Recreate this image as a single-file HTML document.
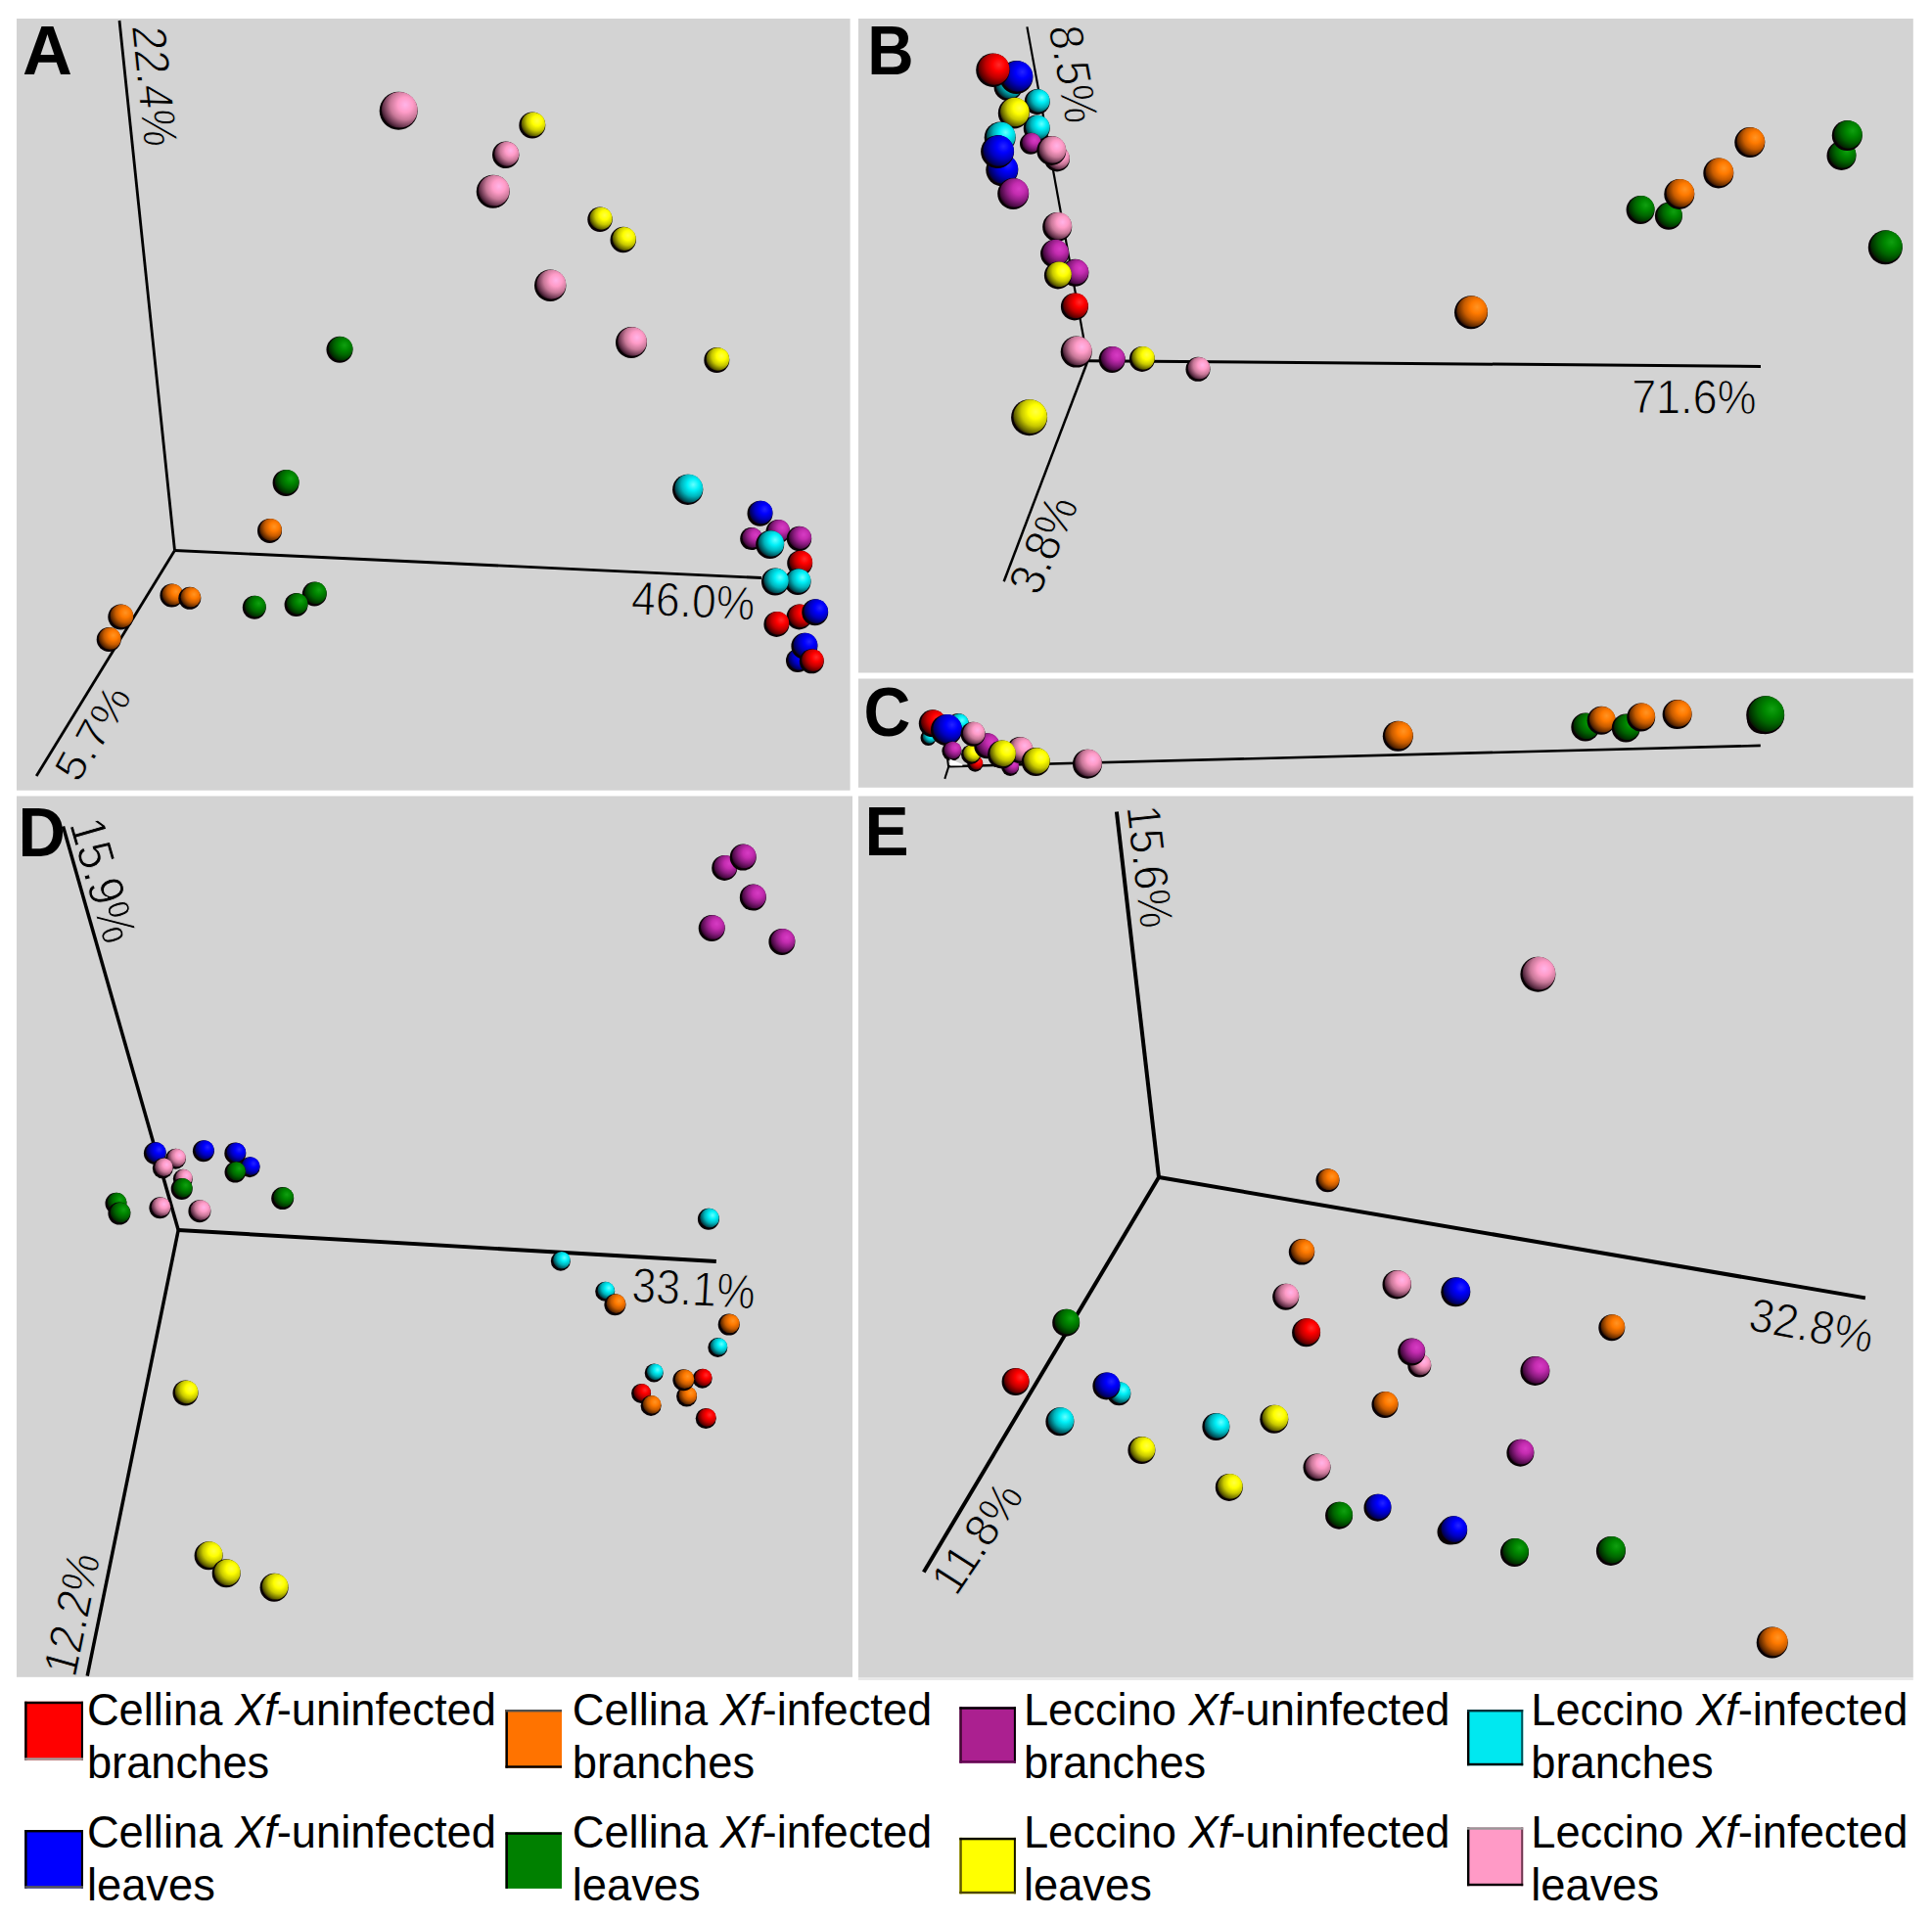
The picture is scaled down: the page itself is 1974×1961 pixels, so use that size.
<!DOCTYPE html>
<html><head><meta charset="utf-8"><title>PCoA</title>
<style>html,body{margin:0;padding:0;background:#fff}svg{display:block}text{font-family:"Liberation Sans",sans-serif;fill:#000}</style></head><body>
<svg width="1974" height="1961" viewBox="0 0 1974 1961">
<defs>
<radialGradient id="gr" cx="0.66" cy="0.36" r="0.75" fx="0.66" fy="0.36"><stop offset="0" stop-color="#ff2a2a"/><stop offset="0.28" stop-color="#ff0000"/><stop offset="0.56" stop-color="#c00000"/><stop offset="0.84" stop-color="#600000"/><stop offset="1" stop-color="#100008"/></radialGradient>
<radialGradient id="go" cx="0.66" cy="0.36" r="0.75" fx="0.66" fy="0.36"><stop offset="0" stop-color="#ff9424"/><stop offset="0.28" stop-color="#ff7a00"/><stop offset="0.56" stop-color="#c85c00"/><stop offset="0.84" stop-color="#602a00"/><stop offset="1" stop-color="#100008"/></radialGradient>
<radialGradient id="gp" cx="0.66" cy="0.36" r="0.75" fx="0.66" fy="0.36"><stop offset="0" stop-color="#d63cc4"/><stop offset="0.28" stop-color="#c42cb0"/><stop offset="0.56" stop-color="#8e1c82"/><stop offset="0.84" stop-color="#4a0a44"/><stop offset="1" stop-color="#100008"/></radialGradient>
<radialGradient id="gc" cx="0.66" cy="0.36" r="0.75" fx="0.66" fy="0.36"><stop offset="0" stop-color="#66ffff"/><stop offset="0.28" stop-color="#00f0f8"/><stop offset="0.56" stop-color="#00b4bc"/><stop offset="0.84" stop-color="#005058"/><stop offset="1" stop-color="#100008"/></radialGradient>
<radialGradient id="gb" cx="0.66" cy="0.36" r="0.75" fx="0.66" fy="0.36"><stop offset="0" stop-color="#2424ff"/><stop offset="0.28" stop-color="#0000ff"/><stop offset="0.56" stop-color="#0000c0"/><stop offset="0.84" stop-color="#000060"/><stop offset="1" stop-color="#100008"/></radialGradient>
<radialGradient id="gg" cx="0.66" cy="0.36" r="0.75" fx="0.66" fy="0.36"><stop offset="0" stop-color="#10a010"/><stop offset="0.28" stop-color="#008800"/><stop offset="0.56" stop-color="#006400"/><stop offset="0.84" stop-color="#003000"/><stop offset="1" stop-color="#100008"/></radialGradient>
<radialGradient id="gy" cx="0.66" cy="0.36" r="0.75" fx="0.66" fy="0.36"><stop offset="0" stop-color="#ffff44"/><stop offset="0.28" stop-color="#ffff00"/><stop offset="0.56" stop-color="#c8c800"/><stop offset="0.84" stop-color="#606000"/><stop offset="1" stop-color="#100008"/></radialGradient>
<radialGradient id="gk" cx="0.66" cy="0.36" r="0.75" fx="0.66" fy="0.36"><stop offset="0" stop-color="#ffb4e8"/><stop offset="0.28" stop-color="#ff9cc8"/><stop offset="0.56" stop-color="#c87898"/><stop offset="0.84" stop-color="#603048"/><stop offset="1" stop-color="#100008"/></radialGradient>
<clipPath id="clipA"><rect x="17" y="19" width="851.6" height="788.7"/></clipPath>
<clipPath id="clipB"><rect x="877" y="19" width="1077.8" height="668.5"/></clipPath>
<clipPath id="clipC"><rect x="877" y="693.5" width="1077.8" height="111.3"/></clipPath>
<clipPath id="clipD"><rect x="17" y="813.5" width="854.0" height="900.3"/></clipPath>
<clipPath id="clipE"><rect x="877" y="813.5" width="1077.8" height="900.5"/></clipPath>
</defs>
<rect width="1974" height="1961" fill="#fff"/>
<g id="panelA">
<rect x="17" y="19" width="851.6" height="788.7" fill="#d3d3d3"/>
<line x1="178.5" y1="562.5" x2="122" y2="21" stroke="#000" stroke-width="2.8"/>
<line x1="178.5" y1="562.5" x2="778" y2="590.5" stroke="#000" stroke-width="2.8"/>
<line x1="178.5" y1="562.5" x2="37.2" y2="793" stroke="#000" stroke-width="2.8"/>
<circle cx="407.2" cy="113.3" r="19.5" fill="#080004"/><circle cx="408.25" cy="112.25" r="18.30" fill="url(#gk)"/>
<circle cx="543.8" cy="128" r="13.5" fill="#080004"/><circle cx="544.85" cy="126.95" r="12.30" fill="url(#gy)"/>
<circle cx="516.7" cy="158.3" r="13.7" fill="#080004"/><circle cx="517.75" cy="157.25" r="12.50" fill="url(#gk)"/>
<circle cx="503.7" cy="195.8" r="17" fill="#080004"/><circle cx="504.75" cy="194.75" r="15.80" fill="url(#gk)"/>
<circle cx="613" cy="224.2" r="12.7" fill="#080004"/><circle cx="614.05" cy="223.15" r="11.50" fill="url(#gy)"/>
<circle cx="636.7" cy="245" r="13.2" fill="#080004"/><circle cx="637.75" cy="243.95" r="12.00" fill="url(#gy)"/>
<circle cx="562.2" cy="291.7" r="16.2" fill="#080004"/><circle cx="563.25" cy="290.65" r="15.00" fill="url(#gk)"/>
<circle cx="645" cy="350" r="16" fill="#080004"/><circle cx="646.05" cy="348.95" r="14.80" fill="url(#gk)"/>
<circle cx="732.3" cy="368" r="13" fill="#080004"/><circle cx="733.35" cy="366.95" r="11.80" fill="url(#gy)"/>
<circle cx="347" cy="357.3" r="13.5" fill="#080004"/><circle cx="348.05" cy="356.25" r="12.30" fill="url(#gg)"/>
<circle cx="292.1" cy="493.4" r="13.5" fill="#080004"/><circle cx="293.15" cy="492.35" r="12.30" fill="url(#gg)"/>
<circle cx="275.5" cy="542.4" r="12.5" fill="#080004"/><circle cx="276.55" cy="541.35" r="11.30" fill="url(#go)"/>
<circle cx="702.7" cy="500.3" r="15.6" fill="#080004"/><circle cx="703.75" cy="499.25" r="14.40" fill="url(#gc)"/>
<circle cx="794.8" cy="543.2" r="12.3" fill="#080004"/><circle cx="795.85" cy="542.15" r="11.10" fill="url(#gp)"/>
<circle cx="767.7" cy="550.5" r="11.5" fill="#080004"/><circle cx="768.75" cy="549.45" r="10.30" fill="url(#gp)"/>
<circle cx="776.5" cy="524.7" r="13" fill="#080004"/><circle cx="777.55" cy="523.65" r="11.80" fill="url(#gb)"/>
<circle cx="816.5" cy="550.5" r="12.7" fill="#080004"/><circle cx="817.55" cy="549.45" r="11.50" fill="url(#gp)"/>
<circle cx="786.7" cy="556.5" r="14.5" fill="#080004"/><circle cx="787.75" cy="555.45" r="13.30" fill="url(#gc)"/>
<circle cx="817.2" cy="575.5" r="13" fill="#080004"/><circle cx="818.25" cy="574.45" r="11.80" fill="url(#gr)"/>
<circle cx="815" cy="594.5" r="13.5" fill="#080004"/><circle cx="816.05" cy="593.45" r="12.30" fill="url(#gc)"/>
<circle cx="792" cy="594.5" r="14" fill="#080004"/><circle cx="793.05" cy="593.45" r="12.80" fill="url(#gc)"/>
<circle cx="816.5" cy="630.4" r="13" fill="#080004"/><circle cx="817.55" cy="629.35" r="11.80" fill="url(#gr)"/>
<circle cx="793.4" cy="637.9" r="13" fill="#080004"/><circle cx="794.45" cy="636.85" r="11.80" fill="url(#gr)"/>
<circle cx="832.7" cy="625.7" r="13.5" fill="#080004"/><circle cx="833.75" cy="624.65" r="12.30" fill="url(#gb)"/>
<circle cx="815" cy="675" r="12" fill="#080004"/><circle cx="816.05" cy="673.95" r="10.80" fill="url(#gb)"/>
<circle cx="821.9" cy="660.2" r="13.5" fill="#080004"/><circle cx="822.95" cy="659.15" r="12.30" fill="url(#gb)"/>
<circle cx="829.3" cy="675.8" r="12.5" fill="#080004"/><circle cx="830.35" cy="674.75" r="11.30" fill="url(#gr)"/>
<circle cx="175.4" cy="608.6" r="12" fill="#080004"/><circle cx="176.45" cy="607.55" r="10.80" fill="url(#go)"/>
<circle cx="193.8" cy="611.3" r="11.5" fill="#080004"/><circle cx="194.85" cy="610.25" r="10.30" fill="url(#go)"/>
<circle cx="123.3" cy="630.5" r="13" fill="#080004"/><circle cx="124.35" cy="629.45" r="11.80" fill="url(#go)"/>
<circle cx="111.2" cy="653.5" r="12.5" fill="#080004"/><circle cx="112.25" cy="652.45" r="11.30" fill="url(#go)"/>
<circle cx="259.8" cy="620.7" r="12" fill="#080004"/><circle cx="260.85" cy="619.65" r="10.80" fill="url(#gg)"/>
<circle cx="321.3" cy="607" r="12.5" fill="#080004"/><circle cx="322.35" cy="605.95" r="11.30" fill="url(#gg)"/>
<circle cx="302.6" cy="618" r="12" fill="#080004"/><circle cx="303.65" cy="616.95" r="10.80" fill="url(#gg)"/>
</g>
<g id="panelB">
<rect x="877" y="19" width="1077.8" height="668.5" fill="#d3d3d3"/>
<line x1="1111.4" y1="368.7" x2="1049.4" y2="27.4" stroke="#000" stroke-width="2.2"/>
<line x1="1111.4" y1="368.7" x2="1799" y2="374.4" stroke="#000" stroke-width="3"/>
<line x1="1111.4" y1="368.7" x2="1025.7" y2="594.2" stroke="#000" stroke-width="2.5"/>
<circle cx="1030" cy="88.4" r="14.6" fill="#080004"/><circle cx="1031.05" cy="87.35" r="13.40" fill="url(#gc)"/>
<circle cx="1038.4" cy="79" r="17" fill="#080004"/><circle cx="1039.45" cy="77.95" r="15.80" fill="url(#gb)"/>
<circle cx="1014.4" cy="71.7" r="17.2" fill="#080004"/><circle cx="1015.45" cy="70.65" r="16.00" fill="url(#gr)"/>
<circle cx="1059.7" cy="104" r="13" fill="#080004"/><circle cx="1060.75" cy="102.95" r="11.80" fill="url(#gc)"/>
<circle cx="1059.2" cy="131.1" r="13.5" fill="#080004"/><circle cx="1060.25" cy="130.05" r="12.30" fill="url(#gc)"/>
<circle cx="1035.8" cy="115.5" r="16" fill="#080004"/><circle cx="1036.85" cy="114.45" r="14.80" fill="url(#gy)"/>
<circle cx="1053" cy="146.7" r="11" fill="#080004"/><circle cx="1054.05" cy="145.65" r="9.80" fill="url(#gp)"/>
<circle cx="1021.7" cy="140.5" r="16" fill="#080004"/><circle cx="1022.75" cy="139.45" r="14.80" fill="url(#gc)"/>
<circle cx="1023.8" cy="173.8" r="16.5" fill="#080004"/><circle cx="1024.85" cy="172.75" r="15.30" fill="url(#gb)"/>
<circle cx="1019.1" cy="155.1" r="17" fill="#080004"/><circle cx="1020.15" cy="154.05" r="15.80" fill="url(#gb)"/>
<circle cx="1035.2" cy="198" r="16" fill="#080004"/><circle cx="1036.25" cy="196.95" r="14.80" fill="url(#gp)"/>
<circle cx="1080" cy="162.4" r="13" fill="#080004"/><circle cx="1081.05" cy="161.35" r="11.80" fill="url(#gk)"/>
<circle cx="1074.3" cy="154" r="15" fill="#080004"/><circle cx="1075.35" cy="152.95" r="13.80" fill="url(#gk)"/>
<circle cx="1080.2" cy="231.9" r="15" fill="#080004"/><circle cx="1081.25" cy="230.85" r="13.80" fill="url(#gk)"/>
<circle cx="1077.6" cy="259.2" r="14.5" fill="#080004"/><circle cx="1078.65" cy="258.15" r="13.30" fill="url(#gp)"/>
<circle cx="1098.4" cy="278.8" r="14" fill="#080004"/><circle cx="1099.45" cy="277.75" r="12.80" fill="url(#gp)"/>
<circle cx="1080.9" cy="281.4" r="14" fill="#080004"/><circle cx="1081.95" cy="280.35" r="12.80" fill="url(#gy)"/>
<circle cx="1097.9" cy="313.4" r="14" fill="#080004"/><circle cx="1098.95" cy="312.35" r="12.80" fill="url(#gr)"/>
<circle cx="1099.7" cy="359.6" r="16" fill="#080004"/><circle cx="1100.75" cy="358.55" r="14.80" fill="url(#gk)"/>
<circle cx="1136.2" cy="367.4" r="13.5" fill="#080004"/><circle cx="1137.25" cy="366.35" r="12.30" fill="url(#gp)"/>
<circle cx="1166.9" cy="366.9" r="13" fill="#080004"/><circle cx="1167.95" cy="365.85" r="11.80" fill="url(#gy)"/>
<circle cx="1224" cy="377.3" r="12.5" fill="#080004"/><circle cx="1225.05" cy="376.25" r="11.30" fill="url(#gk)"/>
<circle cx="1051.6" cy="426.7" r="18.5" fill="#080004"/><circle cx="1052.65" cy="425.65" r="17.30" fill="url(#gy)"/>
<circle cx="1503" cy="319.3" r="17" fill="#080004"/><circle cx="1504.05" cy="318.25" r="15.80" fill="url(#go)"/>
<circle cx="1676.1" cy="214.4" r="14.5" fill="#080004"/><circle cx="1677.15" cy="213.35" r="13.30" fill="url(#gg)"/>
<circle cx="1704.9" cy="220.8" r="14" fill="#080004"/><circle cx="1705.95" cy="219.75" r="12.80" fill="url(#gg)"/>
<circle cx="1715.8" cy="198.4" r="15.5" fill="#080004"/><circle cx="1716.85" cy="197.35" r="14.30" fill="url(#go)"/>
<circle cx="1755.8" cy="176.9" r="15.5" fill="#080004"/><circle cx="1756.85" cy="175.85" r="14.30" fill="url(#go)"/>
<circle cx="1787.8" cy="145.6" r="15.5" fill="#080004"/><circle cx="1788.85" cy="144.55" r="14.30" fill="url(#go)"/>
<circle cx="1881.5" cy="159" r="15" fill="#080004"/><circle cx="1882.55" cy="157.95" r="13.80" fill="url(#gg)"/>
<circle cx="1887.3" cy="138.5" r="15.5" fill="#080004"/><circle cx="1888.35" cy="137.45" r="14.30" fill="url(#gg)"/>
<circle cx="1926.3" cy="252.8" r="17.5" fill="#080004"/><circle cx="1927.35" cy="251.75" r="16.30" fill="url(#gg)"/>
</g>
<g id="panelC">
<rect x="877" y="693.5" width="1077.8" height="111.3" fill="#d3d3d3"/>
<line x1="969.1" y1="783.2" x2="1798.8" y2="761.9" stroke="#000" stroke-width="2.6"/>
<line x1="967.5" y1="770.9" x2="969.1" y2="783.9" stroke="#000" stroke-width="2"/>
<line x1="969.1" y1="783.9" x2="965.3" y2="795.9" stroke="#000" stroke-width="2"/>
<circle cx="978.9" cy="740" r="11" fill="#080004"/><circle cx="979.95" cy="738.95" r="9.80" fill="url(#gc)"/>
<circle cx="948.5" cy="754" r="8" fill="#080004"/><circle cx="949.55" cy="752.95" r="6.80" fill="url(#gc)"/>
<circle cx="952.8" cy="739.3" r="14" fill="#080004"/><circle cx="953.85" cy="738.25" r="12.80" fill="url(#gr)"/>
<circle cx="967" cy="745.9" r="16" fill="#080004"/><circle cx="968.05" cy="744.85" r="14.80" fill="url(#gb)"/>
<circle cx="972.4" cy="767.6" r="10" fill="#080004"/><circle cx="973.45" cy="766.55" r="8.80" fill="url(#gp)"/>
<circle cx="996.3" cy="780.7" r="8" fill="#080004"/><circle cx="997.35" cy="779.65" r="6.80" fill="url(#gr)"/>
<circle cx="992" cy="770.9" r="10" fill="#080004"/><circle cx="993.05" cy="769.85" r="8.80" fill="url(#gy)"/>
<circle cx="1008.3" cy="762.2" r="13" fill="#080004"/><circle cx="1009.35" cy="761.15" r="11.80" fill="url(#gp)"/>
<circle cx="994.1" cy="750.2" r="12.5" fill="#080004"/><circle cx="995.15" cy="749.15" r="11.30" fill="url(#gk)"/>
<circle cx="1032.2" cy="783.9" r="9" fill="#080004"/><circle cx="1033.25" cy="782.85" r="7.80" fill="url(#gp)"/>
<circle cx="1042" cy="766.5" r="13.5" fill="#080004"/><circle cx="1043.05" cy="765.45" r="12.30" fill="url(#gk)"/>
<circle cx="1023.5" cy="770.9" r="14.5" fill="#080004"/><circle cx="1024.55" cy="769.85" r="13.30" fill="url(#gy)"/>
<circle cx="1058.3" cy="778.5" r="14.5" fill="#080004"/><circle cx="1059.35" cy="777.45" r="13.30" fill="url(#gy)"/>
<circle cx="1111" cy="780.7" r="15" fill="#080004"/><circle cx="1112.05" cy="779.65" r="13.80" fill="url(#gk)"/>
<circle cx="1428.3" cy="752.3" r="15.5" fill="#080004"/><circle cx="1429.35" cy="751.25" r="14.30" fill="url(#go)"/>
<circle cx="1619.8" cy="743" r="14.5" fill="#080004"/><circle cx="1620.85" cy="741.95" r="13.30" fill="url(#gg)"/>
<circle cx="1636.1" cy="736.3" r="14.5" fill="#080004"/><circle cx="1637.15" cy="735.25" r="13.30" fill="url(#go)"/>
<circle cx="1661.3" cy="744" r="14.5" fill="#080004"/><circle cx="1662.35" cy="742.95" r="13.30" fill="url(#gg)"/>
<circle cx="1676.7" cy="732.9" r="14.5" fill="#080004"/><circle cx="1677.75" cy="731.85" r="13.30" fill="url(#go)"/>
<circle cx="1713.6" cy="730.1" r="15" fill="#080004"/><circle cx="1714.65" cy="729.05" r="13.80" fill="url(#go)"/>
<circle cx="1800" cy="735" r="15" fill="#080004"/><circle cx="1801.05" cy="733.95" r="13.80" fill="url(#gg)"/>
<circle cx="1803.7" cy="730.7" r="19.5" fill="#080004"/><circle cx="1804.75" cy="729.65" r="18.30" fill="url(#gg)"/>
<polygon points="970.4,775.4 983.3,780.9 983.3,782.6 970.9,782.6" fill="#fff"/>
</g>
<g id="panelD">
<rect x="17" y="813.5" width="854.0" height="900.3" fill="#d3d3d3"/>
<line x1="182.2" y1="1257" x2="64.5" y2="844.6" stroke="#000" stroke-width="3.5"/>
<line x1="182.2" y1="1257" x2="731.8" y2="1289" stroke="#000" stroke-width="3.9"/>
<line x1="182.2" y1="1257" x2="89.2" y2="1712.7" stroke="#000" stroke-width="3.5"/>
<circle cx="158.3" cy="1178.5" r="11.4" fill="#080004"/><circle cx="159.35" cy="1177.45" r="10.20" fill="url(#gb)"/>
<circle cx="179.4" cy="1184.2" r="10.5" fill="#080004"/><circle cx="180.45" cy="1183.15" r="9.30" fill="url(#gk)"/>
<circle cx="166.3" cy="1193.8" r="10.5" fill="#080004"/><circle cx="167.35" cy="1192.75" r="9.30" fill="url(#gk)"/>
<circle cx="207.9" cy="1176.2" r="11" fill="#080004"/><circle cx="208.95" cy="1175.15" r="9.80" fill="url(#gb)"/>
<circle cx="255.1" cy="1192.7" r="10.5" fill="#080004"/><circle cx="256.15" cy="1191.65" r="9.30" fill="url(#gb)"/>
<circle cx="240.3" cy="1178.5" r="11" fill="#080004"/><circle cx="241.35" cy="1177.45" r="9.80" fill="url(#gb)"/>
<circle cx="240.3" cy="1197.8" r="10.8" fill="#080004"/><circle cx="241.35" cy="1196.75" r="9.60" fill="url(#gg)"/>
<circle cx="186.8" cy="1204.7" r="10" fill="#080004"/><circle cx="187.85" cy="1203.65" r="8.80" fill="url(#gk)"/>
<circle cx="185.7" cy="1214.9" r="11" fill="#080004"/><circle cx="186.75" cy="1213.85" r="9.80" fill="url(#gg)"/>
<circle cx="288.7" cy="1224.6" r="11.5" fill="#080004"/><circle cx="289.75" cy="1223.55" r="10.30" fill="url(#gg)"/>
<circle cx="118.5" cy="1229.7" r="11" fill="#080004"/><circle cx="119.55" cy="1228.65" r="9.80" fill="url(#gg)"/>
<circle cx="121.9" cy="1240" r="11.5" fill="#080004"/><circle cx="122.95" cy="1238.95" r="10.30" fill="url(#gg)"/>
<circle cx="163.4" cy="1234.3" r="11" fill="#080004"/><circle cx="164.45" cy="1233.25" r="9.80" fill="url(#gk)"/>
<circle cx="203.9" cy="1237.7" r="11.5" fill="#080004"/><circle cx="204.95" cy="1236.65" r="10.30" fill="url(#gk)"/>
<circle cx="189.5" cy="1423.5" r="13" fill="#080004"/><circle cx="190.55" cy="1422.45" r="11.80" fill="url(#gy)"/>
<circle cx="213.1" cy="1589.7" r="14.5" fill="#080004"/><circle cx="214.15" cy="1588.65" r="13.30" fill="url(#gy)"/>
<circle cx="231.2" cy="1607.8" r="14.5" fill="#080004"/><circle cx="232.25" cy="1606.75" r="13.30" fill="url(#gy)"/>
<circle cx="280.1" cy="1622.3" r="14.5" fill="#080004"/><circle cx="281.15" cy="1621.25" r="13.30" fill="url(#gy)"/>
<circle cx="740.2" cy="886.9" r="13" fill="#080004"/><circle cx="741.25" cy="885.85" r="11.80" fill="url(#gp)"/>
<circle cx="759.2" cy="876.1" r="13.5" fill="#080004"/><circle cx="760.25" cy="875.05" r="12.30" fill="url(#gp)"/>
<circle cx="769.3" cy="917.1" r="13.5" fill="#080004"/><circle cx="770.35" cy="916.05" r="12.30" fill="url(#gp)"/>
<circle cx="727.2" cy="948.5" r="13.5" fill="#080004"/><circle cx="728.25" cy="947.45" r="12.30" fill="url(#gp)"/>
<circle cx="798.9" cy="962.4" r="13.5" fill="#080004"/><circle cx="799.95" cy="961.35" r="12.30" fill="url(#gp)"/>
<circle cx="723.9" cy="1245.7" r="11" fill="#080004"/><circle cx="724.95" cy="1244.65" r="9.80" fill="url(#gc)"/>
<circle cx="572.8" cy="1288.8" r="10" fill="#080004"/><circle cx="573.85" cy="1287.75" r="8.80" fill="url(#gc)"/>
<circle cx="618.2" cy="1319.7" r="10" fill="#080004"/><circle cx="619.25" cy="1318.65" r="8.80" fill="url(#gc)"/>
<circle cx="628.4" cy="1333.2" r="11" fill="#080004"/><circle cx="629.45" cy="1332.15" r="9.80" fill="url(#go)"/>
<circle cx="744.7" cy="1353.6" r="11" fill="#080004"/><circle cx="745.75" cy="1352.55" r="9.80" fill="url(#go)"/>
<circle cx="733.3" cy="1377" r="10" fill="#080004"/><circle cx="734.35" cy="1375.95" r="8.80" fill="url(#gc)"/>
<circle cx="668.2" cy="1403" r="9.5" fill="#080004"/><circle cx="669.25" cy="1401.95" r="8.30" fill="url(#gc)"/>
<circle cx="717.6" cy="1408.7" r="10" fill="#080004"/><circle cx="718.65" cy="1407.65" r="8.80" fill="url(#gr)"/>
<circle cx="701.6" cy="1427" r="10.5" fill="#080004"/><circle cx="702.65" cy="1425.95" r="9.30" fill="url(#go)"/>
<circle cx="698.4" cy="1410.3" r="11" fill="#080004"/><circle cx="699.45" cy="1409.25" r="9.80" fill="url(#go)"/>
<circle cx="655.1" cy="1423.9" r="10" fill="#080004"/><circle cx="656.15" cy="1422.85" r="8.80" fill="url(#gr)"/>
<circle cx="665.1" cy="1436.4" r="10.5" fill="#080004"/><circle cx="666.15" cy="1435.35" r="9.30" fill="url(#go)"/>
<circle cx="721.2" cy="1449.5" r="10.5" fill="#080004"/><circle cx="722.25" cy="1448.45" r="9.30" fill="url(#gr)"/>
</g>
<g id="panelE">
<rect x="877" y="813.5" width="1077.8" height="900.5" fill="#d3d3d3"/>
<line x1="1184" y1="1203" x2="1140.9" y2="829.5" stroke="#000" stroke-width="4"/>
<line x1="1184" y1="1203" x2="1905.9" y2="1326.4" stroke="#000" stroke-width="4"/>
<line x1="1184" y1="1203" x2="943.8" y2="1606.5" stroke="#000" stroke-width="4"/>
<circle cx="1571.4" cy="995.7" r="18" fill="#080004"/><circle cx="1572.45" cy="994.65" r="16.80" fill="url(#gk)"/>
<circle cx="1356.5" cy="1206.3" r="12" fill="#080004"/><circle cx="1357.55" cy="1205.25" r="10.80" fill="url(#go)"/>
<circle cx="1330" cy="1279.3" r="13.2" fill="#080004"/><circle cx="1331.05" cy="1278.25" r="12.00" fill="url(#go)"/>
<circle cx="1313.7" cy="1325.2" r="13.5" fill="#080004"/><circle cx="1314.75" cy="1324.15" r="12.30" fill="url(#gk)"/>
<circle cx="1427.2" cy="1312.7" r="14.7" fill="#080004"/><circle cx="1428.25" cy="1311.65" r="13.50" fill="url(#gk)"/>
<circle cx="1487.3" cy="1320.3" r="15" fill="#080004"/><circle cx="1488.35" cy="1319.25" r="13.80" fill="url(#gb)"/>
<circle cx="1334.6" cy="1361.7" r="14.5" fill="#080004"/><circle cx="1335.65" cy="1360.65" r="13.30" fill="url(#gr)"/>
<circle cx="1450.3" cy="1395.4" r="12" fill="#080004"/><circle cx="1451.35" cy="1394.35" r="10.80" fill="url(#gk)"/>
<circle cx="1442.2" cy="1381.5" r="14" fill="#080004"/><circle cx="1443.25" cy="1380.45" r="12.80" fill="url(#gp)"/>
<circle cx="1646.8" cy="1356.7" r="13.5" fill="#080004"/><circle cx="1647.85" cy="1355.65" r="12.30" fill="url(#go)"/>
<circle cx="1568.4" cy="1401" r="15" fill="#080004"/><circle cx="1569.45" cy="1399.95" r="13.80" fill="url(#gp)"/>
<circle cx="1415" cy="1435.4" r="13.5" fill="#080004"/><circle cx="1416.05" cy="1434.35" r="12.30" fill="url(#go)"/>
<circle cx="1089.2" cy="1351.7" r="14" fill="#080004"/><circle cx="1090.25" cy="1350.65" r="12.80" fill="url(#gg)"/>
<circle cx="1037.6" cy="1412" r="14" fill="#080004"/><circle cx="1038.65" cy="1410.95" r="12.80" fill="url(#gr)"/>
<circle cx="1143.3" cy="1424.2" r="12" fill="#080004"/><circle cx="1144.35" cy="1423.15" r="10.80" fill="url(#gc)"/>
<circle cx="1130.4" cy="1416.4" r="14" fill="#080004"/><circle cx="1131.45" cy="1415.35" r="12.80" fill="url(#gb)"/>
<circle cx="1082.9" cy="1452.7" r="14.5" fill="#080004"/><circle cx="1083.95" cy="1451.65" r="13.30" fill="url(#gc)"/>
<circle cx="1166.4" cy="1482" r="14" fill="#080004"/><circle cx="1167.45" cy="1480.95" r="12.80" fill="url(#gy)"/>
<circle cx="1242.4" cy="1458" r="14" fill="#080004"/><circle cx="1243.45" cy="1456.95" r="12.80" fill="url(#gc)"/>
<circle cx="1301.8" cy="1450.2" r="14.5" fill="#080004"/><circle cx="1302.85" cy="1449.15" r="13.30" fill="url(#gy)"/>
<circle cx="1345.5" cy="1499.6" r="14" fill="#080004"/><circle cx="1346.55" cy="1498.55" r="12.80" fill="url(#gk)"/>
<circle cx="1255.8" cy="1519.9" r="14" fill="#080004"/><circle cx="1256.85" cy="1518.85" r="12.80" fill="url(#gy)"/>
<circle cx="1368.1" cy="1548.7" r="14" fill="#080004"/><circle cx="1369.15" cy="1547.65" r="12.80" fill="url(#gg)"/>
<circle cx="1407.5" cy="1540.7" r="14" fill="#080004"/><circle cx="1408.55" cy="1539.65" r="12.80" fill="url(#gb)"/>
<circle cx="1481.5" cy="1565.5" r="13" fill="#080004"/><circle cx="1482.55" cy="1564.45" r="11.80" fill="url(#gr)"/>
<circle cx="1484.7" cy="1563.7" r="14.5" fill="#080004"/><circle cx="1485.75" cy="1562.65" r="13.30" fill="url(#gb)"/>
<circle cx="1553.4" cy="1484.7" r="14" fill="#080004"/><circle cx="1554.45" cy="1483.65" r="12.80" fill="url(#gp)"/>
<circle cx="1547.5" cy="1586.4" r="14.5" fill="#080004"/><circle cx="1548.55" cy="1585.35" r="13.30" fill="url(#gg)"/>
<circle cx="1645.9" cy="1584.9" r="15" fill="#080004"/><circle cx="1646.95" cy="1583.85" r="13.80" fill="url(#gg)"/>
<circle cx="1810.7" cy="1678.5" r="16" fill="#080004"/><circle cx="1811.75" cy="1677.45" r="14.80" fill="url(#go)"/>
</g>
<g clip-path="url(#clipA)"><text transform="matrix(0.1030,0.9796,-1.1193,-0.0391,134.5,26)" x="0.00 24.74 49.48 61.85 86.60" y="0.00 0.00 0.00 0.00 -0.00" font-size="44.5" stroke="#d3d3d3" stroke-width="0.9">22.4%</text></g>
<g clip-path="url(#clipA)"><text transform="matrix(0.9988,0.0488,-0.0532,1.0887,644.5,627.5)" x="0.00 24.74 49.48 61.86 86.60" y="0.00 0.00 0.00 0.00 0.00" font-size="44.5" stroke="#d3d3d3" stroke-width="0.9">46.0%</text></g>
<g clip-path="url(#clipA)"><text transform="matrix(0.4962,-0.9140,0.8550,0.4788,80.3,801.2)" x="0.00 24.68 37.01 61.69" y="0.00 2.29 3.43 5.72" font-size="44.5" stroke="#d3d3d3" stroke-width="0.9">5.7%</text></g>
<g clip-path="url(#clipB)"><text transform="matrix(0.1788,0.9839,-1.1003,0.1021,1071,27.4)" x="0.00 24.74 37.11 61.86" y="0.00 0.00 0.00 0.00" font-size="44.5" stroke="#d3d3d3" stroke-width="0.9">8.5%</text></g>
<g clip-path="url(#clipB)"><text transform="matrix(1.0000,0.0087,-0.0095,1.0900,1667,422)" x="0.00 25.02 50.04 62.55 87.57" y="0.00 0.00 0.00 0.00 0.00" font-size="45" stroke="#d3d3d3" stroke-width="0.9">71.6%</text></g>
<g clip-path="url(#clipB)"><text transform="matrix(0.4067,-0.9354,1.0591,0.3939,1061.5,610)" x="0.00 24.74 37.11 61.86" y="0.00 0.00 0.00 0.00" font-size="44.5" stroke="#d3d3d3" stroke-width="0.9">3.8%</text></g>
<g clip-path="url(#clipD)"><text transform="matrix(0.2874,0.9891,-1.1043,0.3208,70.5,842)" x="0.00 24.74 49.48 61.86 86.60" y="0.00 0.00 0.00 0.00 0.00" font-size="44.5" stroke="#d3d3d3" stroke-width="0.9">15.9%</text></g>
<g clip-path="url(#clipD)"><text transform="matrix(0.9982,0.0593,-0.0664,1.1180,644.7,1330)" x="0.00 24.74 49.48 61.85 86.60" y="0.00 0.00 0.00 0.00 0.00" font-size="44.5" stroke="#d3d3d3" stroke-width="0.9">33.1%</text></g>
<g clip-path="url(#clipD)"><text transform="matrix(0.2011,-0.9796,1.0691,0.2985,77,1715.5)" x="0.00 24.74 49.48 61.85 86.60" y="0.00 0.00 0.00 0.00 0.00" font-size="44.5" stroke="#d3d3d3" stroke-width="0.9">12.2%</text></g>
<g clip-path="url(#clipE)"><text transform="matrix(0.1149,0.9934,-1.0942,0.1131,1151,824.5)" x="0.00 24.74 49.48 61.86 86.60" y="0.00 0.00 0.00 0.00 0.00" font-size="44.5" stroke="#d3d3d3" stroke-width="0.9">15.6%</text></g>
<g clip-path="url(#clipE)"><text transform="matrix(0.9975,0.1876,-0.2014,1.0712,1784.9,1359.1)" x="0.00 24.74 49.48 61.85 86.60" y="0.00 0.00 0.00 0.00 0.00" font-size="44.5" stroke="#d3d3d3" stroke-width="0.9">32.8%</text></g>
<g clip-path="url(#clipE)"><text transform="matrix(0.5704,-0.8456,0.9114,0.5840,977.1,1632.4)" x="0.00 22.40 45.95 58.15 83.40" y="0.00 0.00 0.00 -0.00 0.00" font-size="44.5" stroke="#d3d3d3" stroke-width="0.9">11.8%</text></g>
<rect x="877" y="1714" width="1077.8" height="3" fill="#e8e8e8"/>
<text transform="translate(23,76.3) scale(1,1)" font-size="70.5" font-weight="bold">A</text>
<text transform="translate(886.3,75.6) scale(0.93,1)" font-size="70.5" font-weight="bold">B</text>
<text transform="translate(882.5,751.5) scale(0.94,1)" font-size="70.5" font-weight="bold">C</text>
<text transform="translate(18.5,874.6) scale(0.95,1)" font-size="70.5" font-weight="bold">D</text>
<text transform="translate(883.5,874) scale(0.96,1)" font-size="70.5" font-weight="bold">E</text>
<rect x="25.2" y="1738.8" width="59.7" height="59.9" fill="#ff0000"/>
<rect x="25.2" y="1738.8" width="2.4" height="59.9" fill="#000"/>
<rect x="82.9" y="1738.8" width="2.0" height="59.9" fill="#000"/>
<rect x="25.2" y="1738.8" width="59.7" height="2.4" fill="#000"/>
<rect x="25.2" y="1796.3" width="59.7" height="2.4" fill="#a0a0a0"/>
<text x="88.9" y="1762.5" font-size="45.3">Cellina <tspan font-style="italic">Xf</tspan>-uninfected</text>
<text x="88.9" y="1817" font-size="45.3">branches</text>
<rect x="25.2" y="1870" width="59.7" height="59.6" fill="#0000ff"/>
<rect x="25.2" y="1870" width="2.4" height="59.6" fill="#000"/>
<rect x="82.9" y="1870" width="2.0" height="59.6" fill="#000"/>
<rect x="25.2" y="1870" width="59.7" height="2.4" fill="#000"/>
<rect x="25.2" y="1927.2" width="59.7" height="2.4" fill="#585858"/>
<text x="88.9" y="1888" font-size="45.3">Cellina <tspan font-style="italic">Xf</tspan>-uninfected</text>
<text x="88.9" y="1942" font-size="45.3">leaves</text>
<rect x="516.5" y="1747" width="57.5" height="59.7" fill="#ff7300"/>
<rect x="516.5" y="1747" width="2.4" height="59.7" fill="#000"/>
<rect x="516.5" y="1747" width="57.5" height="2.4" fill="#505050"/>
<rect x="516.5" y="1804.3" width="57.5" height="2.4" fill="#000"/>
<text x="584.7" y="1762.5" font-size="45.3">Cellina <tspan font-style="italic">Xf</tspan>-infected</text>
<text x="584.7" y="1817" font-size="45.3">branches</text>
<rect x="516.5" y="1872.4" width="57.5" height="57.5" fill="#008000"/>
<rect x="516.5" y="1872.4" width="2.4" height="57.5" fill="#000"/>
<rect x="516.5" y="1872.4" width="57.5" height="2.4" fill="#000"/>
<text x="584.7" y="1888" font-size="45.3">Cellina <tspan font-style="italic">Xf</tspan>-infected</text>
<text x="584.7" y="1942" font-size="45.3">leaves</text>
<rect x="980.4" y="1744.3" width="57.5" height="57.3" fill="#ab2090"/>
<rect x="980.4" y="1744.3" width="2.4" height="57.3" fill="#400830"/>
<rect x="1035.9" y="1744.3" width="2.0" height="57.3" fill="#000"/>
<rect x="980.4" y="1744.3" width="57.5" height="2.4" fill="#000"/>
<rect x="980.4" y="1799.2" width="57.5" height="2.4" fill="#600850"/>
<text x="1045.9" y="1762.5" font-size="45.3">Leccino <tspan font-style="italic">Xf</tspan>-uninfected</text>
<text x="1045.9" y="1817" font-size="45.3">branches</text>
<rect x="980.4" y="1877.9" width="57.5" height="57.3" fill="#ffff00"/>
<rect x="980.4" y="1877.9" width="2.4" height="57.3" fill="#605800"/>
<rect x="1035.9" y="1877.9" width="2.0" height="57.3" fill="#181400"/>
<rect x="980.4" y="1877.9" width="57.5" height="2.4" fill="#000"/>
<rect x="980.4" y="1932.8" width="57.5" height="2.4" fill="#504800"/>
<text x="1045.9" y="1888" font-size="45.3">Leccino <tspan font-style="italic">Xf</tspan>-uninfected</text>
<text x="1045.9" y="1942" font-size="45.3">leaves</text>
<rect x="1499" y="1747" width="57.2" height="57.2" fill="#00e8f0"/>
<rect x="1499" y="1747" width="2.4" height="57.2" fill="#000"/>
<rect x="1554.2" y="1747" width="2.0" height="57.2" fill="#005058"/>
<rect x="1499" y="1747" width="57.2" height="2.4" fill="#003038"/>
<rect x="1499" y="1801.8" width="57.2" height="2.4" fill="#000"/>
<text x="1564.2" y="1762.5" font-size="45.3">Leccino <tspan font-style="italic">Xf</tspan>-infected</text>
<text x="1564.2" y="1817" font-size="45.3">branches</text>
<rect x="1499" y="1867.3" width="57.2" height="59.9" fill="#ff9ac6"/>
<rect x="1499" y="1867.3" width="2.4" height="59.9" fill="#000"/>
<rect x="1554.2" y="1867.3" width="2.0" height="59.9" fill="#703850"/>
<rect x="1499" y="1867.3" width="57.2" height="2.4" fill="#989898"/>
<rect x="1499" y="1924.8" width="57.2" height="2.4" fill="#000"/>
<text x="1564.2" y="1888" font-size="45.3">Leccino <tspan font-style="italic">Xf</tspan>-infected</text>
<text x="1564.2" y="1942" font-size="45.3">leaves</text>
</svg></body></html>
